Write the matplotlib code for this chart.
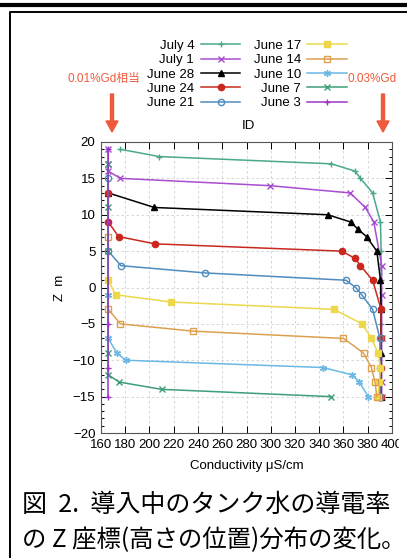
import matplotlib.pyplot as plt
from matplotlib.lines import Line2D
from matplotlib.patches import Rectangle, FancyArrow

plt.rcParams['font.family'] = ['Liberation Sans', 'Noto Sans CJK JP']

# data (Z in m, conductivity in uS/cm)
dates = ['July 4', 'July 1', 'June 28', 'June 24', 'June 21',
         'June 17', 'June 14', 'June 10', 'June 7', 'June 3']

july4_z = [19, 18, 17, 16, 15, 13, 9, 5, 1, -5, -11, -15]
july4_c = [176, 208, 350, 369.5, 374, 384, 390.5, 391, 391, 391, 391, 391]

july1_z = [19, 17, 16, 15, 14, 13, 11, 9, 3, -1, -7, -13, -15]
july1_c = [166, 166, 166, 176, 299, 365.5, 378, 385, 391.5, 391.5, 391.5, 391.5, 391.5]

june28_z = [13, 11, 10, 9, 8, 7, 5, 1, -3, -9, -15]
june28_c = [166, 204, 347, 366, 372, 379, 387.5, 390.5, 391, 391, 391]

june24_z = [13, 9, 7, 6, 5, 4, 3, 1, -3, -7, -11, -15]
june24_c = [166, 166, 174.5, 204.5, 358.5, 369.5, 374, 384, 391, 391, 391, 391]

june21_z = [15, 5, 3, 2, 1, 0, -1, -3, -7, -11, -15]
june21_c = [166, 166, 176.5, 246, 362, 370, 375, 384, 390, 390, 390]

june17_z = [1, -1, -2, -3, -5, -7, -9, -11, -13, -15]
june17_c = [166, 172, 218, 352, 375.5, 383, 388.5, 390.5, 389.5, 388.5]

june14_z = [7, -3, -5, -6, -7, -9, -11, -13, -15]
june14_c = [166, 166, 176, 236, 360, 376.5, 383, 386, 387.5]

june10_z = [-1, -7, -9, -10, -11, -12, -13, -15]
june10_c = [166, 166, 173, 180.5, 343, 367, 373, 380.5]

june7_z = [17, 11, 5, -9, -12, -13, -14, -15]
june7_c = [166, 166, 166, 166, 166, 175, 210, 349.5]

june3_z = [19, 9, -5, -11, -15]
june3_c = [166, 166, 166, 166, 166]

series_z = [july4_z, july1_z, june28_z, june24_z, june21_z,
            june17_z, june14_z, june10_z, june7_z, june3_z]
series_c = [july4_c, july1_c, june28_c, june24_c, june21_c,
            june17_c, june14_c, june10_c, june7_c, june3_c]

colors = ['#4aa88c', '#a84ed0', 'black', '#c8281e', '#4f8cbf',
          '#ecd84a', '#dca050', '#6bb8e4', '#3d9e78', '#9b35c2']
markers = ['+', 'x', '^', 'o', 'o', 's', 's', (6, 2, 0), 'x', '+']
fills = ['full', 'full', 'full', 'full', 'none', 'full', 'none', 'full', 'full', 'full']
msizes = [5, 4.5, 4.5, 4.5, 4.5, 4.5, 4.5, 5, 4.5, 4]

fig = plt.figure(figsize=(4.07, 5.58), dpi=100)
W, H = 407, 558
ax = fig.add_axes([101 / W, 1 - 433 / H, 291 / W, 291 / H])

for z, c, col, m, f, ms, lab in zip(series_z, series_c, colors, markers, fills, msizes, dates):
    ax.plot(c, z, color=col, marker=m, fillstyle=f, ms=ms, lw=1.1,
            mew=1.0, label=lab)

ax.set_xlim(160, 400)
ax.set_ylim(-20, 20)
ax.set_xticks(range(160, 401, 20))
ax.set_yticks(range(-20, 21, 5))
ax.set_yticks(range(-20, 21, 1), minor=True)
ax.tick_params(which='both', direction='in', top=True, right=True,
               labelsize=9.5, width=0.7, pad=4)
ax.tick_params(which='major', length=5)
ax.tick_params(which='minor', length=2.5)
ax.grid(True, which='major', color='#d0d0d0', lw=0.6, ls=(0, (3, 3)))
for s in ax.spines.values():
    s.set_color('#555555')
    s.set_linewidth(0.8)

ax.set_xlabel('Conductivity μS/cm', fontsize=9.5, labelpad=7)
ax.set_ylabel('Z  m', fontsize=9.5)
ax.yaxis.set_label_coords(-0.12, 0.5)

fig.legend(loc='upper center', bbox_to_anchor=(247 / W, 1 - 33 / H), ncol=2,
           frameon=False, markerfirst=False, fontsize=9.5, handlelength=3.0,
           columnspacing=1.0, labelspacing=0.16, handletextpad=0.5,
           borderpad=0)
fig.text(248 / W, 1 - 126 / H, 'ID', fontsize=9.5, ha='center', va='center')

# red notes and arrows
red = '#f05a3c'
fig.text(68 / W, 1 - 79 / H, '0.01%Gd相当', color=red, fontsize=8.5,
         ha='left', va='center')
fig.text(348 / W, 1 - 79 / H, '0.03%Gd', color=red, fontsize=8.5,
         ha='left', va='center')
for xa in (112, 383):
    fig.add_artist(FancyArrow(
        xa / W, 1 - 94 / H, 0, -38 / H, width=3 / W, head_width=12 / W,
        head_length=11 / H, length_includes_head=True, color=red,
        transform=fig.transFigure))

# chart picture is cropped on the right
fig.add_artist(Rectangle((399 / W, 1 - 480 / H), 8 / W, 465 / H,
                         transform=fig.transFigure, color='white', zorder=10))

# page frame
fig.add_artist(Line2D([0, 1], [1 - 5 / H, 1 - 5 / H], color='black', lw=3,
                      transform=fig.transFigure))
fig.add_artist(Line2D([9.5 / W, 9.5 / W, 1], [0, 1 - 11.5 / H, 1 - 11.5 / H],
                      color='black', lw=1.4, transform=fig.transFigure))

# caption
fig.text(22 / W, 1 - 505 / H, '図  2.  導入中のタンク水の導電率',
         family=['Noto Sans CJK JP'], fontsize=18, ha='left', va='center')
fig.text(22 / W, 1 - 540 / H, 'の Z 座標(高さの位置)分布の変化。',
         family=['Noto Sans CJK JP'], fontsize=17.6, ha='left', va='center')

fig.savefig('out.png', dpi=100)
